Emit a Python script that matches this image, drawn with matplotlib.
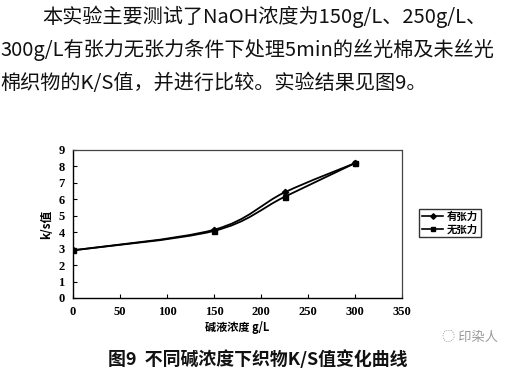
import numpy as np
import matplotlib
matplotlib.use('Agg')
import matplotlib.pyplot as plt
from matplotlib.path import Path
from matplotlib.patches import PathPatch
from matplotlib.lines import Line2D

CJK = ['Noto Sans CJK SC', 'DejaVu Sans']
SERIF = ['Liberation Serif', 'DejaVu Serif']

concentration = [0, 150, 225, 300]
ks_tension = [2.9, 4.15, 6.42, 8.2]
ks_no_tension = [2.9, 4.08, 6.15, 8.2]
series_names = ['有张力', '无张力']

paragraph = ['本实验主要测试了NaOH浓度为150g/L、250g/L、',
             '300g/L有张力无张力条件下处理5min的丝光棉及未丝光',
             '棉织物的K/S值，并进行比较。实验结果见图9。']
caption = '图9  不同碱浓度下织物K/S值变化曲线'


def smoothPath(xs, ys):
    # excel-like smoothed line as cubic bezier segments
    pts = np.column_stack([xs, ys]).astype(float)
    ext = np.vstack([pts[0], pts, pts[-1]])
    verts = [tuple(pts[0])]
    codes = [Path.MOVETO]
    for i in range(len(pts) - 1):
        p0, p1, p2, p3 = ext[i], ext[i + 1], ext[i + 2], ext[i + 3]
        c1 = p1 + (p2 - p0) / 6.0
        c2 = p2 - (p3 - p1) / 6.0
        verts += [tuple(c1), tuple(c2), tuple(p2)]
        codes += [Path.CURVE4] * 3
    return Path(verts, codes)


fig = plt.figure(figsize=(5.19, 3.69), dpi=100)

ys_text = [17, 50, 83]
xs_text = [42, 0, 0]
for line, yy, xx in zip(paragraph, ys_text, xs_text):
    fig.text(xx / 519, 1 - yy / 369, line, family=CJK, fontsize=14.5,
             fontweight='medium', va='center', ha='left', color='#111111')

ax = fig.add_axes([73 / 519, 1 - 298 / 369, 329 / 519, 148 / 369])

for ys, mk, ms in [(ks_tension, 'D', 3.2), (ks_no_tension, 's', 3.6)]:
    ax.add_patch(PathPatch(smoothPath(concentration, ys), fill=False,
                           edgecolor='black', lw=1.3))
    ax.plot(concentration, ys, ls='none', marker=mk, ms=ms, color='black')

ax.set_xlim(0, 350)
ax.set_ylim(0, 9)
ax.set_xticks(range(0, 351, 50))
ax.set_yticks(range(0, 10))
ax.tick_params(direction='in', length=3, width=0.8, labelsize=9, pad=6)
for lab in ax.get_xticklabels() + ax.get_yticklabels():
    lab.set_family(SERIF)
    lab.set_fontweight('bold')
for s in ['top', 'right']:
    ax.spines[s].set_linestyle((0, (3, 1)))
    ax.spines[s].set_color('#444444')
    ax.spines[s].set_linewidth(0.9)
for s in ['left', 'bottom']:
    ax.spines[s].set_linewidth(1.0)

ax.set_xlabel('碱液浓度 g/L', family=CJK, fontsize=8, fontweight='bold', labelpad=2)
ax.set_ylabel('k/s值', family=CJK, fontsize=8.5, fontweight='bold', labelpad=4)

handles = [Line2D([], [], color='black', lw=1.2, marker='D', ms=2.8),
           Line2D([], [], color='black', lw=1.2, marker='s', ms=3.4)]
leg = fig.legend(handles, series_names, loc='center',
                 bbox_to_anchor=(450 / 519, 1 - 223 / 369),
                 prop={'family': CJK, 'size': 7.5, 'weight': 'bold'},
                 frameon=True, fancybox=False, handlelength=2.0,
                 handletextpad=0.3, borderpad=0.3, labelspacing=0.2,
                 borderaxespad=0)
leg.get_frame().set_edgecolor('black')
leg.get_frame().set_linewidth(1.0)

fig.text(108 / 519, 1 - 360 / 369, caption, family=CJK, fontsize=12.9,
         fontweight='bold', va='center', ha='left', color='#111111')
fig.text(442 / 519, 1 - 337 / 369, '\u25cc 印染人', family=CJK, fontsize=9.5,
         va='center', ha='left', color='#9a9a9a')

fig.savefig('out.png', dpi=100)
